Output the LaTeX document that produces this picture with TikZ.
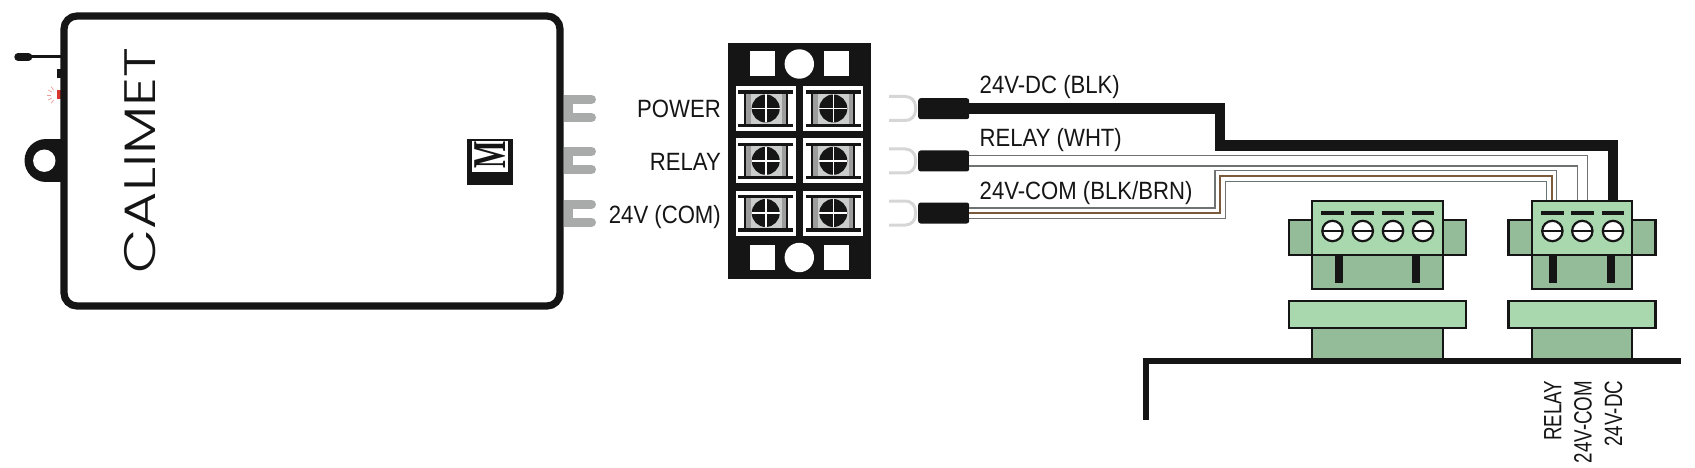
\documentclass[tikz,border=0pt]{standalone}
\usepackage{xcolor}
\usepackage{fontspec}
\usepackage{tikz}
\usetikzlibrary{shapes,positioning}
\setmainfont[FakeStretch=.885]{Liberation Sans}
\newfontfamily\narrowfont[FakeStretch=.75]{Liberation Sans}
\newfontfamily\logofont[FakeStretch=1.3,UprightFont=* Light]{Poppins}
\newfontfamily\markfont[FakeStretch=.62,UprightFont=* Bold]{Liberation Serif}
\definecolor{inkblack}{HTML}{151515}
\definecolor{forkgrey}{HTML}{A9ABAB}
\definecolor{lightfork}{HTML}{D6D6D6}
\definecolor{screwmid}{HTML}{9C9C9C}
\definecolor{screwlight}{HTML}{CBCDCC}
\definecolor{wiregrey}{HTML}{6E7272}
\definecolor{wirebrown}{HTML}{7B5A3C}
\definecolor{ledred}{HTML}{D8372F}
\definecolor{greenlight}{HTML}{A9D8AF}
\definecolor{greendark}{HTML}{94BC98}
\tikzstyle{portlabel} = [anchor=base east, inner sep=0pt, font=\fontsize{25}{25}\selectfont, text=inkblack]
\tikzstyle{wirelabel} = [anchor=base west, inner sep=0pt, font=\fontsize{25}{25}\selectfont, text=inkblack]
\tikzstyle{pinlabel} = [anchor=base east, rotate=90, inner sep=0pt, font=\fontsize{25}{25}\narrowfont, text=inkblack]
\tikzstyle{lug} = [rectangle, fill=inkblack, rounded corners=2.5pt, minimum width=51pt, minimum height=21pt, inner sep=0pt]
\tikzstyle{greenbox} = [draw=inkblack, line width=2.2pt, fill=greenlight]
\tikzstyle{greenback} = [draw=inkblack, line width=2.2pt, fill=greendark]
\begin{document}
\begin{tikzpicture}[x=1pt, y=-1pt, line join=miter]
  \useasboundingbox (0,0) rectangle (1695,468);

  \draw[inkblack, line width=3.2pt] (30,56.7) -- (62,56.7);
  \draw[inkblack, line width=7.4pt, line cap=round] (18,56.9) -- (28.6,56.9);
  \fill[inkblack] (56.7,69) rectangle (61,77.7);
  \fill[ledred] (56.7,90) rectangle (61,99.3);
  \foreach \a in {125,150,180,210,235}
    \draw[ledred!50, line width=.7pt] (57,95) ++(\a:6) -- ++(\a:4);
  \fill[inkblack] (46,160.5) circle (21.5pt);
  \fill[inkblack] (46,139) rectangle (61,182);
  \fill[white] (44.3,160.7) circle (11.2pt);

  \foreach \y in {108.5,160.5,213}
    \draw[forkgrey, line width=9pt, line cap=round] (591.5,\y-9) -- (568.5,\y-9) -- (568.5,\y+9) -- (591.5,\y+9);
  \node[rectangle, draw=inkblack, fill=white, line width=7.2pt, rounded corners=13pt, minimum width=496pt, minimum height=290pt, inner sep=0pt] (calimet) at (312,161) {};
  \node[rotate=90, inner sep=0pt, text=inkblack, font=\fontsize{44}{44}\logofont] (brand) at (140,160.5) {CALIMET};

  \fill[inkblack] (466.7,139) rectangle (513,185);
  \fill[white] (471.7,141) rectangle (507.7,172);
  \node[rotate=90, inner sep=0pt, text=inkblack, font=\fontsize{47}{47}\markfont] (mark) at (490,155) {M};

  \node[rectangle, fill=inkblack, minimum width=142.4pt, minimum height=236.6pt, inner sep=0pt] (block) at (799.5,161) {};
  \foreach \y in {64,257.5} {
    \fill[white] (750,\y-12.5) rectangle (775,\y+12.5);
    \fill[white] (824,\y-12.5) rectangle (849,\y+12.5);
    \fill[white] (799.3,\y) circle (14.7pt);
  }
  \foreach \cx in {765.7,833.3}
    \foreach \cy in {108.5,160.8,213} {
      \fill[white] (\cx-30,\cy-22.5) rectangle (\cx+30,\cy+22.5);
      \fill[inkblack] (\cx-27.5,\cy-18) rectangle (\cx+27.5,\cy-14.6);
      \fill[inkblack] (\cx-27.5,\cy+15.4) rectangle (\cx+27.5,\cy+18.6);
      \fill[inkblack] (\cx-22,\cy-14.6) rectangle (\cx+22,\cy+15.4);
      \fill[screwmid] (\cx-20,\cy-14.6) rectangle (\cx+20,\cy+15.4);
      \fill[screwlight] (\cx-15,\cy-14.6) rectangle (\cx+16,\cy+15.4);
      \fill[inkblack] (\cx,\cy) circle (14pt);
      \draw[white, line width=1.6pt] (\cx-14,\cy) -- (\cx+14,\cy);
      \draw[white, line width=1.6pt] (\cx,\cy-14) -- (\cx,\cy+14);
    }

  \node[portlabel] (power) at (721,117.3) {POWER};
  \node[portlabel] (relay) at (721,170.5) {RELAY};
  \node[portlabel] (com) at (721,223.3) {24V (COM)};

  \foreach \y in {108.5,161,213}
    \draw[lightfork, line width=3pt, rounded corners=10pt] (889,\y-12) -- (915.5,\y-12) -- (915.5,\y+12) -- (889,\y+12);
  \node[lug] (lugdc) at (943.7,108.7) {};
  \node[lug] (lugrelay) at (943.7,161) {};
  \node[lug] (lugcom) at (943.7,213) {};

  \coordinate (pindc) at (1613,202);
  \coordinate (pinrelay) at (1582.6,202);
  \coordinate (pincom) at (1551.6,202);
  \coordinate (benddc) at (1220,145.5);
  \coordinate (bendcom) at (1220,176);

  \draw[inkblack, line width=10.8pt] (lugdc.east) -| (benddc) -| (pindc);
  \draw[wiregrey, line width=11.2pt] (lugrelay.east) -| (pinrelay);
  \draw[white, line width=9pt] (lugrelay.east) -| (pinrelay);
  \draw[wiregrey, line width=11.2pt] (lugcom.east) -| (bendcom) -| (pincom);
  \draw[white, line width=9pt] (lugcom.east) -| (bendcom) -| (pincom);
  \draw[wirebrown, line width=1.8pt] (lugcom.east) -| (bendcom) -| (pincom);

  \node[wirelabel] (labeldc) at (979.5,93.3) {24V-DC (BLK)};
  \node[wirelabel] (labelrelay) at (979.5,146.7) {RELAY (WHT)};
  \node[wirelabel] (labelcom) at (979.5,199.3) {24V-COM (BLK/BRN)};

  \foreach \l/\r/\wl/\wr/\pa/\pb/\screws in {1312/1442.8/1288.6/1466/1338.6/1416/{1332.5,1362.8,1393,1423},1531.8/1632/1508.4/1655.4/1552.7/1611/{1552.4,1582.3,1613}} {
    \draw[greenback] (\wl,220) rectangle (\wr,255);
    \draw[greenback] (\l,255) rectangle (\r,289);
    \draw[greenbox] (\l,200.7) rectangle (\r,255);
    \fill[inkblack] (\pa-4,256) rectangle (\pa+4,282.7);
    \fill[inkblack] (\pb-4,256) rectangle (\pb+4,282.7);
    \foreach \s in \screws {
      \fill[inkblack] (\s-11.4,211) rectangle (\s+11.4,215);
      \draw[inkblack, fill=white, line width=2.2pt] (\s,231) circle (10.2pt);
      \draw[inkblack, line width=2.2pt] (\s-10,231) -- (\s+10,231);
    }
    \draw[greenback] (\l,328.3) rectangle (\r,361);
    \draw[greenbox] (\wl,300.7) rectangle (\wr,328.3);
  }
  \draw[inkblack, line width=6pt] (1146.3,420) -- (1146.3,361) -- (1680.6,361);

  \node[pinlabel] (textrelay) at (1561.4,380.7) {RELAY};
  \node[pinlabel] (textcom) at (1591.6,380.7) {24V-COM};
  \node[pinlabel] (textdc) at (1622,380.7) {24V-DC};
\end{tikzpicture}
\end{document}
